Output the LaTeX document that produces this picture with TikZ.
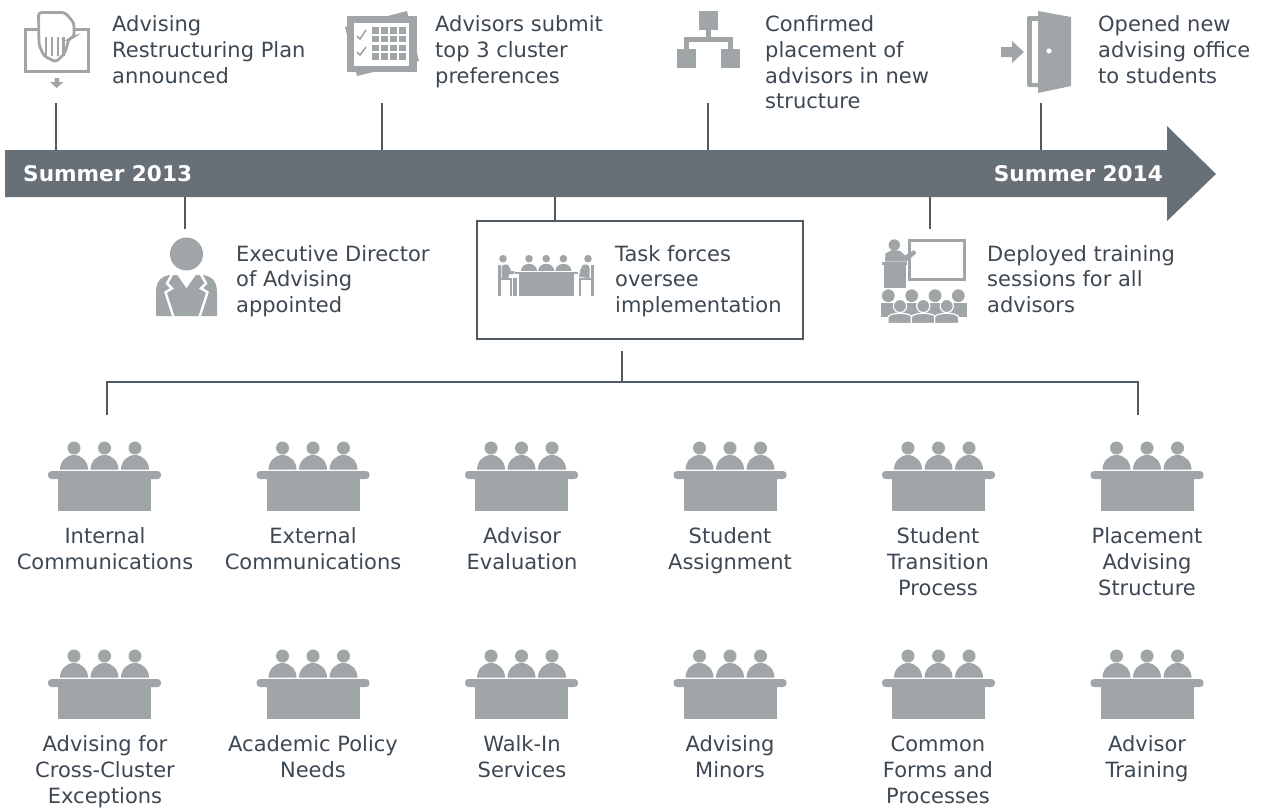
\documentclass[tikz,border=0pt]{standalone}
\usepackage{fontspec}
\setmainfont{DejaVu Sans}
\usetikzlibrary{positioning}

\definecolor{icongray}{HTML}{A0A5A8}
\definecolor{bargray}{HTML}{687077}
\definecolor{textgray}{HTML}{3D4852}
\definecolor{linegray}{HTML}{4F5A64}

\tikzset{
  lefttext/.style={anchor=north west,align=left,inner sep=0pt,text=textgray,font=\fontsize{21}{25.7}\selectfont},
  teamtext/.style={anchor=north,align=center,inner sep=0pt,text=textgray,font=\fontsize{21}{25.9}\selectfont},
  datetext/.style={inner sep=0pt,text=white,font=\fontsize{21.6}{24}\selectfont\bfseries},
  stem/.style={draw=linegray,line width=2.2pt},
  icon/.style={fill=icongray,draw=none},
  blank/.style={fill=white,draw=none},
  pics/teamicon/.style={code={
    \fill[icongray,rounded corners=3.5pt] (-56.5,23) rectangle (56.5,31);
    \fill[icongray] (-46.5,27) rectangle (46.5,63);
    \foreach \hx in {-30.5,0,30.5} {
      \fill[icongray] (\hx,0) circle (6.5);
      \fill[icongray] (\hx-14,21.5) arc[start angle=180,end angle=360,x radius=14,y radius=14.5] -- cycle;
    }
  }}
}

\begin{document}
\begin{tikzpicture}[x=1pt,y=-1pt]

\useasboundingbox (0,0) rectangle (1261,807);

% timeline
\path [fill=bargray] (5,150) -- (1167,150) -- (1167,126) -- (1216,174) -- (1167,221) -- (1167,197) -- (5,197) -- cycle;
\node [datetext,anchor=west] (start) at (23,174) {Summer 2013};
\node [datetext,anchor=east] (end) at (1163,174) {Summer 2014};

\coordinate (bartop1) at (56,150);
\coordinate (bartop2) at (382,150);
\coordinate (bartop3) at (708,150);
\coordinate (bartop4) at (1041,150);
\coordinate (barbot1) at (185,197);
\coordinate (barbot2) at (555,197);
\coordinate (barbot3) at (930,197);

\coordinate (plan) at (56,103);
\coordinate (prefs) at (382,103);
\coordinate (place) at (708,103);
\coordinate (office) at (1041,103);
\coordinate (director) at (185,229);
\coordinate (training) at (930,229);

% top row text
\node [lefttext] (plantext) at (112,15.5) {Advising\\Restructuring Plan\\announced};
\node [lefttext] (prefstext) at (435,15.5) {Advisors submit\\top 3 cluster\\preferences};
\node [lefttext] (placetext) at (765,15.5) {Confirmed\\placement of\\advisors in new\\structure};
\node [lefttext] (officetext) at (1098,15.5) {Opened new\\advising office\\to students};

% lower row text
\node [lefttext] (directortext) at (236,245) {Executive Director\\of Advising\\appointed};
\node [draw=linegray,line width=2.4pt,minimum width=326pt,minimum height=118pt,anchor=north west] (taskbox) at (476,220) {};
\node [lefttext] (tasktext) at (615,245) {Task forces\\oversee\\implementation};
\node [lefttext] (trainingtext) at (987,245) {Deployed training\\sessions for all\\advisors};

% stems
\draw [stem] (plan) -- (bartop1);
\draw [stem] (prefs) -- (bartop2);
\draw [stem] (place) -- (bartop3);
\draw [stem] (office) -- (bartop4);
\draw [stem] (barbot1) -- (director);
\draw [stem] (barbot2) -- (taskbox.north -| barbot2);
\draw [stem] (barbot3) -- (training);

% tree
\coordinate (treetop) at (622,351);
\coordinate (treemid) at (622,382);
\coordinate (treeleft) at (107,415);
\coordinate (treeright) at (1138,415);
\draw [stem] (treetop) -- (treemid);
\draw [stem] (treeleft) |- (treeright |- treemid) -- (treeright);

% plan icon
\path [draw=icongray,line width=3pt] (25,29.5) rectangle (88,71);
\path [draw=icongray,line width=2.8pt,fill=white,rounded corners=3pt] (39,45) -- (38.5,12.5) -- (65,12.5) -- (74,23) -- (74,37) -- (69,38.5) -- (65,53) -- (56,62) -- (44,56) -- cycle;
\foreach \fx in {46,52,58,63.5} \draw [icongray,line width=2.2pt] (\fx,37) -- (\fx,56);
\path [icon] (54.5,78) -- (59,78) -- (59,82) -- (63.5,82) -- (56.7,88) -- (50,82) -- (54.5,82) -- cycle;

% prefs icon
\path [icon] (345,27) -- (407,11) -- (419,61) -- (357,76) -- cycle;
\path [icon] (347,16) rectangle (417,72);
\path [blank] (353.5,23) rectangle (409,66);
\foreach \gy in {27,35.8,44.6,53.4} \foreach \gx in {372,381,390,399} \path [icon] (\gx,\gy) rectangle +(6.6,6.6);
\draw [icongray,line width=1.6pt] (357,36) -- (360,39) -- (366,30);
\draw [icongray,line width=1.6pt] (357,52) -- (360,55) -- (366,47);

% place icon
\path [icon] (699,11) rectangle (718,30);
\path [icon] (677,49) rectangle (696,68);
\path [icon] (721,49) rectangle (740,68);
\path [icon] (706,30) rectangle (711,38);
\path [icon] (684,37) rectangle (733,42);
\path [icon] (684,37) rectangle (689,49);
\path [icon] (728,37) rectangle (733,49);

% office icon
\path [icon] (1001,47) -- (1012,47) -- (1012,41) -- (1024,52) -- (1012,63) -- (1012,57) -- (1001,57) -- cycle;
\path [icon,rounded corners=1.5pt] (1027,16) rectangle (1040,87);
\path [blank] (1032,21) rectangle (1040,83);
\path [icon] (1038,11) -- (1071,17) -- (1071,86) -- (1038,93) -- cycle;
\path [blank] (1049,51) circle (2.6);

% director icon
\path [icon] (186.5,254) circle (16.5);
\path [icon] (156,316) -- (156,292) .. controls (156,280) and (163,275) .. (172,275) -- (201,275) .. controls (210,275) and (217,280) .. (217,292) -- (217,316) -- cycle;
\draw [white,line width=2.4pt] (172,274.5) -- (167,283.3) -- (172,288.3) -- (165.5,292.3) -- (173.5,317);
\draw [white,line width=2.4pt] (201,274.5) -- (206,283.3) -- (201,288.3) -- (207.5,292.3) -- (199.5,317);
\path [blank] (177,274.5) -- (186.5,288) -- (196,274.5) -- cycle;

% task icon
\foreach \hx in {529,546.2,563.4} {
  \path [icon] (\hx,258.7) circle (3.8);
  \path [icon] (\hx-8,270.8) arc[start angle=180,end angle=360,x radius=8,y radius=7] -- cycle;
}
\path [icon] (503,258.7) circle (3.8);
\path [icon] (588,258.7) circle (3.8);
\path [icon] (515,271.8) rectangle (578,274);
\path [icon] (519.3,274) rectangle (574.3,295.5);
\path [icon] (497.5,265) rectangle (500.5,295.5);
\path [icon] (497.5,278) rectangle (511.7,280);
\path [icon] (510,280) rectangle (512.2,295.5);
\path [icon] (513,278) rectangle (517,295.5);
\path [icon] (501.5,268) .. controls (501.5,264) and (506,264) .. (508.3,265) -- (511,271) -- (515,271.5) -- (514,274) -- (509,274.5) -- (508.3,278) -- (501.5,278) -- cycle;
\path [icon] (593.5,265) rectangle (590.5,295.5);
\path [icon] (593.5,278) rectangle (579.3,280);
\path [icon] (581,280) rectangle (578.8,295.5);
\path [icon] (589.5,268) .. controls (589.5,264) and (585,264) .. (582.7,265) -- (580,271) -- (579,277) -- (589.5,278) -- cycle;

% training icon
\path [draw=icongray,line width=2.8pt] (909.4,240.4) rectangle (964.3,279.6);
\path [icon] (894.3,245) circle (5.7);
\path [icon] (885,261.5) -- (885.5,253.5) -- (892,250) -- (900,250.8) -- (905,255.5) -- (914,250) -- (916.5,253) -- (906.7,261.5) -- cycle;
\path [icon] (882.3,262.3) rectangle (907.3,265);
\path [icon] (884,265) rectangle (906,288.3);
\foreach \hx in {888.3,911.7,935,958.3} \path [icon] (\hx,295.7) circle (6.4);
\path [icon] (881,303.3) rectangle (966.5,317);
\foreach \hx in {900,923.3,946.7} {
  \path [draw=white,line width=1.2pt,fill=icongray] (\hx,306) circle (6.6);
  \path [draw=white,line width=1.2pt,fill=icongray] (\hx-12,323.5) -- (\hx-12,317) .. controls (\hx-10,312) and (\hx+10,312) .. (\hx+12,317) -- (\hx+12,323.5) -- cycle;
}

% team icons
\pic at (104.5,448) {teamicon};
\pic at (313,448) {teamicon};
\pic at (521.5,448) {teamicon};
\pic at (730,448) {teamicon};
\pic at (938.5,448) {teamicon};
\pic at (1147,448) {teamicon};
\pic at (104.5,656) {teamicon};
\pic at (313,656) {teamicon};
\pic at (521.5,656) {teamicon};
\pic at (730,656) {teamicon};
\pic at (938.5,656) {teamicon};
\pic at (1147,656) {teamicon};

% team labels
\node [teamtext] (t1) at (105,527.5) {Internal\\Communications};
\node [teamtext] (t2) at (313,527.5) {External\\Communications};
\node [teamtext] (t3) at (522,527.5) {Advisor\\Evaluation};
\node [teamtext] (t4) at (730,527.5) {Student\\Assignment};
\node [teamtext] (t5) at (938,527.5) {Student\\Transition\\Process};
\node [teamtext] (t6) at (1147,527.5) {Placement\\Advising\\Structure};
\node [teamtext] (t7) at (105,735.5) {Advising for\\Cross-Cluster\\Exceptions};
\node [teamtext] (t8) at (313,735.5) {Academic Policy\\Needs};
\node [teamtext] (t9) at (522,735.5) {Walk-In\\Services};
\node [teamtext] (t10) at (730,735.5) {Advising\\Minors};
\node [teamtext] (t11) at (938,735.8) {Common\\Forms and\\Processes};
\node [teamtext] (t12) at (1147,735.5) {Advisor\\Training};

\end{tikzpicture}
\end{document}
